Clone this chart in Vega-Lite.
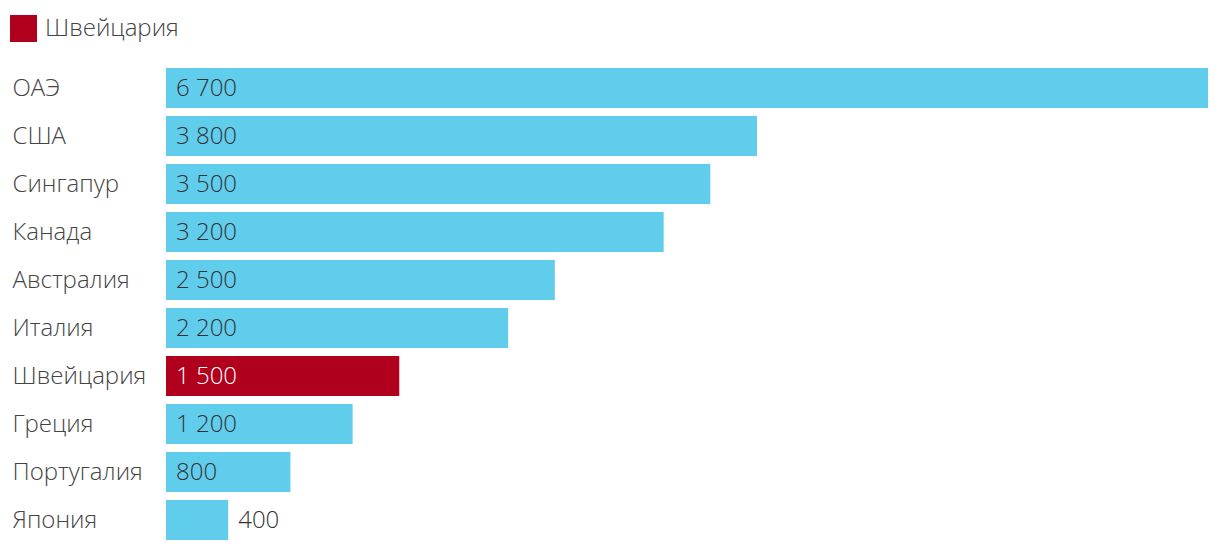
{
  "$schema": "https://vega.github.io/schema/vega-lite/v6.json",
  "width": 1042,
  "height": 480,
  "autosize": {"type": "none"},
  "padding": {"left": 166, "top": 64, "right": 12, "bottom": 8},
  "background": "white",
  "config": {
    "view": {"stroke": null},
    "font": "Open Sans",
    "locale": {"number": {"decimal": ",", "thousands": " ", "grouping": [3], "currency": ["", ""]}}
  },
  "data": {
    "values": [
      {"country": "ОАЭ", "value": 6700, "group": "Другие"},
      {"country": "США", "value": 3800, "group": "Другие"},
      {"country": "Сингапур", "value": 3500, "group": "Другие"},
      {"country": "Канада", "value": 3200, "group": "Другие"},
      {"country": "Австралия", "value": 2500, "group": "Другие"},
      {"country": "Италия", "value": 2200, "group": "Другие"},
      {"country": "Швейцария", "value": 1500, "group": "Швейцария"},
      {"country": "Греция", "value": 1200, "group": "Другие"},
      {"country": "Португалия", "value": 800, "group": "Другие"},
      {"country": "Япония", "value": 400, "group": "Другие"}
    ]
  },
  "encoding": {
    "y": {
      "field": "country",
      "type": "nominal",
      "sort": null,
      "scale": {"paddingInner": 0.16667, "paddingOuter": 0.08333},
      "axis": {
        "title": null,
        "domain": false,
        "ticks": false,
        "tickSize": 0,
        "labelAlign": "left",
        "labelPadding": 154,
        "labelOffset": 1,
        "labelFont": "Open Sans",
        "labelFontWeight": 300,
        "labelFontSize": 24,
        "labelColor": "#444444",
        "labelLimit": 200
      }
    }
  },
  "layer": [
    {
      "mark": {"type": "bar"},
      "encoding": {
        "x": {"field": "value", "type": "quantitative", "scale": {"domain": [0, 6700], "nice": false}, "axis": null},
        "color": {
          "field": "group",
          "type": "nominal",
          "scale": {"domain": ["Швейцария", "Другие"], "range": ["#B0001E", "#61CDED"]},
          "legend": {
            "values": ["Швейцария"],
            "title": null,
            "orient": "none",
            "legendX": -156,
            "legendY": -49,
            "symbolType": "square",
            "symbolSize": 729,
            "symbolStrokeWidth": 0,
            "symbolOpacity": 1,
            "labelFont": "Open Sans",
            "labelFontWeight": 300,
            "labelFontSize": 24,
            "labelColor": "#444444",
            "labelOffset": 8
          }
        }
      }
    },
    {
      "transform": [{"filter": "datum.value >= 600"}],
      "mark": {"type": "text", "align": "left", "baseline": "middle", "dx": 10, "dy": 1, "font": "Open Sans", "fontWeight": 300, "fontSize": 24},
      "encoding": {
        "x": {"datum": 0, "type": "quantitative"},
        "text": {"field": "value", "type": "quantitative", "format": ",d"},
        "color": {"condition": {"test": "datum.group === 'Швейцария'", "value": "#ffffff"}, "value": "#333333"}
      }
    },
    {
      "transform": [{"filter": "datum.value < 600"}],
      "mark": {"type": "text", "align": "left", "baseline": "middle", "dx": 10, "dy": 1, "font": "Open Sans", "fontWeight": 300, "fontSize": 24, "color": "#333333"},
      "encoding": {
        "x": {"field": "value", "type": "quantitative"},
        "text": {"field": "value", "type": "quantitative", "format": ",d"}
      }
    }
  ]
}
